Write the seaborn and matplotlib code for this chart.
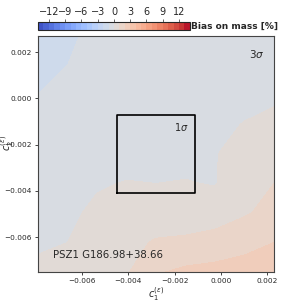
import numpy as np
import pandas as pd
import seaborn as sns
import matplotlib
matplotlib.use("Agg")
import matplotlib.pyplot as plt

sns.set_style("white")
plt.rcParams['font.family'] = ['DejaVu Sans']

# Grid coordinates (data units)
c1_vals = [-0.0079, -0.006625, -0.00535, -0.004075, -0.0028, -0.001525, -0.00025, 0.001025, 0.0023]
c2_vals = [0.0027, 0.001425, 0.00015, -0.001125, -0.0024, -0.003675, -0.00495, -0.006225, -0.0075]

# Bias on mass [%], rows follow c2_vals (top to bottom)
bias_rows = [
    [-1.6, -1.2, -0.7, -0.6, -0.5, -0.5, -0.5, -0.5, -0.5],
    [-1.5, -1.0, -0.7, -0.6, -0.5, -0.5, -0.5, -0.5, -0.4],
    [-1.0, -0.7, -0.6, -0.6, -0.5, -0.5, -0.5, -0.4, -0.2],
    [-0.7, -0.6, -0.5, -0.5, -0.5, -0.4, -0.3, 0.05, 0.3],
    [-0.7, -0.6, -0.5, -0.4, -0.4, -0.3, -0.05, 0.4, 0.6],
    [-0.6, -0.4, -0.1, 0.05, 0.0, 0.05, -0.05, 0.6, 1.0],
    [-0.5, -0.2, 0.2, 0.4, 0.4, 0.4, 0.5, 0.9, 1.3],
    [-0.2, 0.0, 0.5, 0.7, 1.1, 1.2, 1.4, 1.7, 2.0],
    [0.3, 0.4, 0.7, 0.9, 1.9, 2.2, 2.3, 2.4, 2.6],
]

center = (-0.0028, -0.0024)
sigma = 0.0017
cluster_name = "PSZ1 G186.98+38.66"
cbar_ticks = [-12, -9, -6, -3, 0, 3, 6, 9, 12]

df = pd.DataFrame(bias_rows, index=c2_vals, columns=c1_vals)
X, Y = np.meshgrid(df.columns.values, df.index.values)
Z = df.values

fig = plt.figure(figsize=(3.05, 3.05), dpi=100)
ax = fig.add_axes([0.1246, 0.1082, 0.7738, 0.774])
levels = np.arange(-14, 15, 1)
cf = ax.contourf(X, Y, Z, levels=levels, cmap=sns.color_palette("coolwarm", as_cmap=True))

# 1 sigma box
ax.plot([center[0] - sigma, center[0] + sigma, center[0] + sigma, center[0] - sigma, center[0] - sigma],
        [center[1] - sigma, center[1] - sigma, center[1] + sigma, center[1] + sigma, center[1] - sigma],
        color='black', lw=1.2)
ax.text(center[0] + 0.82 * sigma, center[1] + 0.68 * sigma, r'$1\sigma$', ha='right', va='center', fontsize=7)
ax.text(0.958, 0.924, r'$3\sigma$', transform=ax.transAxes, ha='right', va='center', fontsize=7.5)
ax.text(0.065, 0.06, cluster_name, transform=ax.transAxes, ha='left', va='baseline', fontsize=7.3)

ax.set_xlim(center[0] - 3 * sigma, center[0] + 3 * sigma)
ax.set_ylim(center[1] - 3 * sigma, center[1] + 3 * sigma)
ax.set_xticks([-0.006, -0.004, -0.002, 0.0, 0.002])
ax.set_yticks([0.002, 0.0, -0.002, -0.004, -0.006])
ax.set_xticklabels(['−0.006', '−0.004', '−0.002', '0.000', '0.002'])
ax.set_yticklabels(['0.002', '0.000', '−0.002', '−0.004', '−0.006'])
ax.tick_params(labelsize=5.3, length=2.5, width=0.6, left=True, bottom=True, pad=2)
ax.set_xlabel(r'$c_1^{(\epsilon)}$', fontsize=7, labelpad=1)
ax.set_ylabel(r'$c_2^{(\epsilon)}$', fontsize=7)
ax.yaxis.set_label_coords(-0.092, 0.547)
for s in ax.spines.values():
    s.set_color('#444444')
    s.set_linewidth(0.8)

cax = fig.add_axes([0.1246, 0.9016, 0.498, 0.026])
cb = fig.colorbar(cf, cax=cax, orientation='horizontal', ticks=cbar_ticks)
cax.xaxis.set_ticks_position('top')
cax.set_xticklabels([str(t).replace('-', '−') for t in cbar_ticks])
cax.tick_params(labelsize=7, length=2, width=0.5, pad=1.5)
cb.outline.set_linewidth(0.8)
cax.text(1.005, 0.5, 'Bias on mass [%]', transform=cax.transAxes, ha='left', va='center',
         fontsize=6.5, fontweight='bold')

fig.savefig('out.png', dpi=100)
